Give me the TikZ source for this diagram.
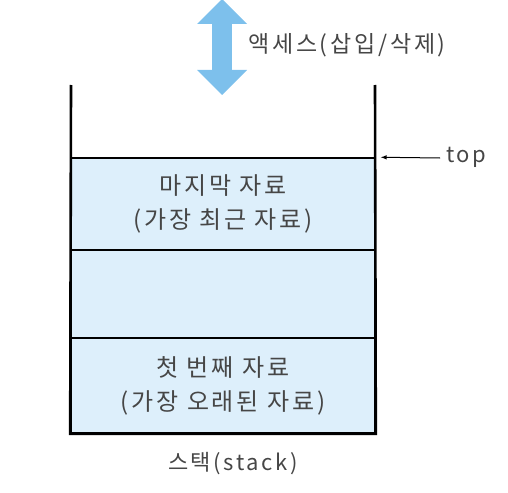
\documentclass[tikz,border=0pt]{standalone}
\usepackage{fontspec}
\newfontfamily\kfont[LetterSpace=12]{Noto Sans CJK KR}
\usetikzlibrary{shapes.arrows}
\definecolor{cellblue}{RGB}{221,239,251}
\definecolor{arrowblue}{RGB}{125,192,236}
\definecolor{txtgray}{RGB}{70,70,70}
\begin{document}
\begin{tikzpicture}[
  x=1pt, y=-1pt,
  cell/.style={draw=black,line width=1.6pt,fill=cellblue,minimum width=304pt,
    inner sep=0pt,align=center,font=\kfont\fontsize{24}{34}\selectfont,text=txtgray},
  lbl/.style={font=\kfont\fontsize{22}{26}\selectfont,text=txtgray,inner sep=0pt},
  wall/.style={draw=black,line width=2.6pt},
  pointer/.style={draw=black,line width=1pt,-latex,shorten >=5pt}
]
  \useasboundingbox (0,0) rectangle (508,492);

  \node[cell,minimum height=92pt] (c3) at (223,204) {마지막 자료\\(가장 최근 자료)};
  \node[cell,minimum height=88pt] (c2) at (223,294) {};
  \node[cell,minimum height=95pt] (c1) at (223,385.5) {첫 번째 자료\\(가장 오래된 자료)};

  \coordinate (wl) at (71,85);
  \coordinate (wr) at (375,85);
  \draw[wall] (wl) -- (c1.south west) -- (c1.south east) -- (wr);

  \node[double arrow,rotate=90,fill=arrowblue,minimum height=96pt,minimum width=50pt,
    double arrow head extend=8pt,inner sep=5pt] (acc) at (222,47) {};
  \node[lbl,anchor=west,font=\kfont\fontsize{23}{26}\selectfont] (accl) at (248,45) {액세스(삽입/삭제)};

  \node[lbl,anchor=west] (topl) at (446,157) {top};
  \draw[pointer] (topl.west) ++(-6,1) coordinate (tp) -- (c3.north east);

  \node[lbl] (name) at (233,464) {스택(stack)};
\end{tikzpicture}
\end{document}
